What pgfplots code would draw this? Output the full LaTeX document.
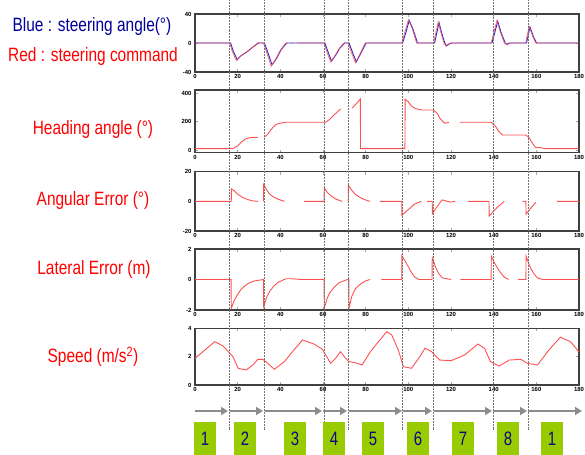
\documentclass[border=0pt]{standalone}
\usepackage{pgfplots}
\pgfplotsset{compat=1.18}
\usepackage{fontspec}
\setmainfont{Liberation Sans}
\usetikzlibrary{arrows.meta}
\definecolor{lblred}{RGB}{255,0,0}
\definecolor{lblblue}{RGB}{0,0,153}
\definecolor{boxgreen}{RGB}{153,204,0}
\definecolor{digblue}{RGB}{10,10,130}
\definecolor{curvered}{RGB}{255,80,80}
\definecolor{curveblue}{RGB}{40,40,220}
\pgfplotsset{panel/.style={
  scale only axis, width=384bp, xmin=0, xmax=180,
  xtick={0,20,...,180},
  axis line style={black!75, line width=1.2bp},
  tick style={black!35, line width=0.5bp},
  major tick length=3bp,
  tick label style={font=\fontsize{6}{6}\selectfont\bfseries},
  /pgf/number format/assume math mode=true,
  xticklabel style={yshift=1bp},
  unbounded coords=jump,
}}
\begin{document}
\begin{tikzpicture}
\path[use as bounding box] (0,0) rectangle (585bp,455bp);
% Panel 1: steering
\begin{axis}[panel, at={(195bp,383bp)}, height=58bp, ymin=-40, ymax=40, ytick={-40,0,40}]
\addplot[curveblue, line width=0.9bp] coordinates {(0,0) (16.7,0) (17.9,-11) (19.8,-23) (21.4,-18) (24.4,-12) (27.4,-5) (29.8,0) (32.5,0) (33.9,-11) (36.1,-30) (37.9,-23) (40.4,-9) (43,0) (60.9,0) (62.2,-11) (64,-25) (65.9,-17) (67.9,-7) (70.2,0) (72.2,0) (73.6,-11) (75.6,-26) (77.4,-16) (80.2,0) (97.3,0) (98.9,15) (100.4,31) (102.2,19) (104.3,0) (112.3,0) (113.4,15) (114.4,28) (115.7,13) (117.1,0) (117.9,-4) (119.4,-1) (120.4,0) (139.2,0) (140.4,13) (141.9,30) (143.4,15) (145.4,0) (146.4,-2) (147.4,0) (155.4,0) (157,22) (158.6,9) (160.1,0) (180,0)};
\addplot[curvered, line width=0.8bp, opacity=0.85] coordinates {(0,0) (16.3,0) (17.5,-12) (19.4,-24) (21,-19) (24,-13) (27,-6) (29.4,0) (32.1,0) (33.5,-12) (35.7,-32) (37.5,-24) (40,-10) (42.6,0) (43.5,0) (nan,nan) (45,0) (46,0) (nan,nan) (48,0) (60.5,0) (61.8,-12) (63.6,-26) (65.5,-18) (67.5,-8) (69.8,0) (71.8,0) (73.2,-12) (75.2,-27) (77,-17) (79.8,0) (96.9,0) (98.5,16) (100,32) (101.8,20) (103.9,0) (111.9,0) (113,16) (114,29) (115.3,14) (116.7,0) (117.5,-4) (119,-1) (120,0) (138.8,0) (140,14) (141.5,31) (143,16) (145,0) (146,-2) (147,0) (155,0) (156.6,23) (158.2,10) (159.7,0) (180,0)};
\end{axis}
% Panel 2: heading
\begin{axis}[panel, at={(195bp,302.3bp)}, height=62.7bp, ymin=-19, ymax=424, ytick={0,200,400}]
\addplot[curvered, line width=0.9bp] coordinates {(0,10) (17.8,10) (20,30) (22,60) (24,80) (26,88) (29.5,90) (nan,nan) (32.6,90) (34.5,120) (36.5,160) (38,181) (40,190) (42.6,196) (61.3,196) (63,215) (65,245) (66,259) (68.2,290) (nan,nan) (73.6,295) (75.5,325) (77.5,360) (77.6,10) (98.4,10) (98.5,360) (100,340) (101.5,310) (103.1,294) (106.2,283) (111.6,283) (113.5,260) (115,220) (117,189) (119,195) (nan,nan) (124,196) (138.8,196) (140.5,175) (142.5,130) (144.2,106) (155,106) (156.5,90) (158.5,40) (159.7,16) (161,20) (162.5,15) (164,10) (180,10)};
\end{axis}
% Panel 3: angular error
\begin{axis}[panel, at={(195bp,224bp)}, height=59.3bp, ymin=-20, ymax=20, ytick={-20,0,20}]
\addplot[curvered, line width=0.9bp] coordinates {(0,0) (17,0) (17.1,8.5) (18.5,7) (20.2,4.6) (22.5,2.5) (24.8,1.2) (27,0.3) (29.5,0) (nan,nan) (32.1,0) (32.2,11.5) (33.5,8) (34.9,5) (36.8,3) (38.8,1.5) (41.9,0) (nan,nan) (51,0) (60.5,0) (60.6,9.2) (62,6) (63.6,3.9) (66,1.5) (69,0) (nan,nan) (71.8,0) (71.9,10.8) (73.5,7.5) (75.2,4.6) (77.5,2.5) (79.8,1) (82,0) (nan,nan) (86.6,0) (96.9,0) (97,-9.4) (98.8,-7) (100.8,-4.6) (102.8,-2) (104.7,-0.7) (106,0) (nan,nan) (108.8,0) (111.2,0) (111.3,-8.3) (113.5,-3.5) (115.8,1) (117.5,0.3) (119.7,-0.5) (122,0) (nan,nan) (128,0) (137.8,0) (137.9,-9.9) (140,-6.5) (142,-3.6) (145,0) (nan,nan) (153.6,0) (155.1,0) (155.2,-8.7) (157.5,-4.5) (159.7,-0.7) (nan,nan) (169.8,0) (180,0)};
\end{axis}
% Panel 4: lateral error
\begin{axis}[panel, at={(195bp,145bp)}, height=61bp, ymin=-2, ymax=2, ytick={-2,0,2}]
\addplot[curvered, line width=0.9bp] coordinates {(0,0) (16.9,0) (17,-1.89) (18.3,-1.4) (19.8,-1.02) (21.3,-0.7) (22.9,-0.47) (25,-0.25) (27.6,-0.1) (32.1,0) (32.2,-1.78) (33.5,-1.2) (34.9,-0.8) (36.8,-0.45) (38.8,-0.2) (42.6,0.05) (45,0.05) (50,0) (60.5,0) (60.6,-1.89) (61.8,-1.3) (63,-0.9) (65.3,-0.5) (67.6,-0.2) (71.5,0) (72.1,0) (72.2,-1.89) (73.5,-1.1) (75.2,-0.6) (77.5,-0.3) (79.8,-0.1) (82,0) (nan,nan) (87.4,0) (96.9,0) (97,1.56) (98.5,1.2) (100,0.84) (101.5,0.45) (103.1,0.15) (105,0) (111.1,0) (111.2,1.43) (112.8,0.8) (114.3,0.37) (116,0.1) (118,0.05) (120,0) (nan,nan) (124.4,0) (138.8,0) (138.9,1.53) (140.5,1.05) (142,0.7) (143.5,0.4) (145,0.15) (147,0) (nan,nan) (151.3,0) (155.1,0) (155.2,1.53) (156.3,1.1) (157.5,0.7) (159,0.35) (160.6,0.1) (163,0) (180,0)};
\end{axis}
% Panel 5: speed
\begin{axis}[panel, at={(195bp,70bp)}, height=56.7bp, ymin=0, ymax=4, ytick={0,2,4}]
\addplot[curvered, line width=0.9bp] coordinates {(0,1.88) (4.65,2.47) (9.3,3.06) (13.2,2.75) (16.3,2.24) (17.8,2.0) (20.2,1.18) (24,1.06) (27.1,1.41) (29.5,1.81) (31.8,1.81) (34.1,1.53) (37.2,1.11) (41.9,1.65) (45.7,2.35) (50.4,3.18) (55.8,2.89) (59.7,2.52) (63.6,1.53) (65.9,1.88) (68.2,2.35) (70.6,1.88) (72.1,1.65) (75.2,1.57) (78.3,1.41) (82.2,2.35) (86,3.06) (89.9,3.76) (92.2,3.53) (95.3,2.47) (97.7,1.29) (101.5,1.18) (105.4,2.0) (107.8,2.59) (110.9,2.35) (114.7,1.76) (120.1,1.72) (126.4,2.12) (132.6,2.89) (135.7,2.59) (138.5,1.65) (142.6,1.34) (147.3,1.76) (152.7,1.81) (155.8,1.53) (160.5,1.41) (165.9,2.47) (171.3,3.37) (176,3.06) (179.9,2.35)};
\end{axis}
% phase separators
\foreach \px in {229,264,324,348,402,433,493,528}
  \draw[black!55, densely dotted, line width=0.5bp] (\px bp,25bp) -- (\px bp,455bp);
% arrows
\foreach \a/\b in {195/228,230/263,265/322,323/347,349/402,403/432,434/492,493/527,528/582}
  \draw[black!45, line width=2.5bp, -{Triangle[length=7bp,width=8bp]}] (\a bp,44bp) -- (\b bp,44bp);
% phase boxes
\foreach \cx/\n in {205/1,245/2,295/3,334/4,373/5,418/6,463/7,508/8,552/1}{
  \fill[boxgreen] (\cx bp-10.75bp,0bp) rectangle (\cx bp+10.75bp,33bp);
  \node[digblue, font=\fontsize{15}{15}\selectfont] at (\cx bp,16.5bp) {\scalebox{1}[1.3]{\n}};
}
% left labels
\node[lblblue, font=\fontsize{15.5}{15.5}\selectfont] at (92bp,428bp) {\scalebox{1}[1.25]{Blue : steering angle(\textdegree)}};
\node[lblred, font=\fontsize{15.5}{15.5}\selectfont] at (93bp,398bp) {\scalebox{1}[1.25]{Red : steering command}};
\node[lblred, font=\fontsize{15.5}{15.5}\selectfont] at (93bp,325bp) {\scalebox{1}[1.25]{Heading angle (\textdegree)}};
\node[lblred, font=\fontsize{15.5}{15.5}\selectfont] at (93bp,254bp) {\scalebox{1}[1.25]{Angular Error (\textdegree)}};
\node[lblred, font=\fontsize{15.5}{15.5}\selectfont] at (94bp,185bp) {\scalebox{1}[1.25]{Lateral Error (m)}};
\node[lblred, font=\fontsize{15.5}{15.5}\selectfont] at (93bp,98bp) {\scalebox{1}[1.25]{Speed (m/s\textsuperscript{2})}};
\end{tikzpicture}
\end{document}
